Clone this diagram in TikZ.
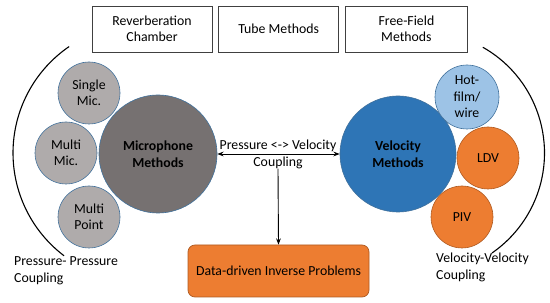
\documentclass[tikz,border=0pt]{standalone}
\usepackage{fontspec}
\setmainfont{Carlito}
\usetikzlibrary{arrows.meta, positioning, shapes.geometric}
\definecolor{micDark}{HTML}{767171}
\definecolor{micGray}{HTML}{AFABAB}
\definecolor{velBlue}{HTML}{2E75B6}
\definecolor{velLight}{HTML}{9DC3E6}
\definecolor{velOrange}{HTML}{ED7D31}
\definecolor{rimBlue}{HTML}{41719C}
\definecolor{rimOrange}{HTML}{AE5A21}
\definecolor{boxLine}{HTML}{404040}
\tikzset{
  arrowK/.style={-{Stealth[length=2.2mm]}, black, line width=0.9pt},
  arrowKK/.style={{Stealth[length=2.2mm]}-{Stealth[length=2.2mm]}, black, line width=0.9pt},
  arcK/.style={black, line width=1.1pt},
  boxTop/.style={rectangle, draw=boxLine, fill=white, line width=0.7pt,
                 align=center, minimum height=46pt, inner sep=2pt},
  boxData/.style={rectangle, rounded corners=7pt, draw=rimOrange, fill=velOrange,
                  line width=0.7pt, align=center, minimum width=181pt,
                  minimum height=52pt},
  circMain/.style={circle, draw=rimBlue, line width=0.6pt, align=center,
                   font=\fontsize{13.8}{16.5}\selectfont\bfseries, inner sep=0pt},
  circSub/.style={circle, draw=rimBlue, line width=0.6pt, align=center,
                  minimum size=62pt, inner sep=0pt},
}
\begin{document}
\begin{tikzpicture}[x=1pt, y=1pt, node distance=6pt, font=\fontsize{13.8}{16.5}\selectfont]
    \useasboundingbox (0,0) rectangle (550,303);
    % top boxes
    \node[boxTop, minimum width=120pt] (reverb) at (152,274) {Reverberation\\Chamber};
    \node[boxTop, minimum width=120pt, right=of reverb] (tube) {Tube Methods};
    \node[boxTop, minimum width=122pt, right=of tube] (free) {Free-Field\\Methods};
    % microphone side
    \node[circMain, fill=micDark, minimum size=118pt] (mic) at (158,149) {Microphone\\Methods};
    \node[circSub, fill=micGray] (single) at (89,210) {Single\\Mic.};
    \node[circSub, fill=micGray] (multimic) at (66,150) {Multi\\Mic.};
    \node[circSub, fill=micGray] (multipt) at (89,86) {Multi\\Point};
    % velocity side
    \node[circMain, fill=velBlue, minimum size=116pt] (vel) at (398,149) {Velocity\\Methods};
    \node[circSub, fill=velLight, minimum size=64pt] (hot) at (467,206) {Hot-\\film/\\wire};
    \node[circSub, fill=velOrange, draw=rimOrange] (ldv) at (488,145) {LDV};
    \node[circSub, fill=velOrange, draw=rimOrange] (piv) at (462,86) {PIV};
    % coupling
    \draw[arrowKK] (mic) -- (vel);
    \node[align=center, inner sep=0pt, font=\fontsize{13.8}{17}\selectfont] (coupling) at (278,149)
          {Pressure <-> Velocity\\Coupling};
    \node[boxData] (data) at (278.5,32) {Data-driven Inverse Problems};
    \draw[arrowK] (coupling.south) -- (data.north);
    % outer arcs
    \draw[arcK] (142,150) ++(124.4:129) arc (124.4:232.8:129);
    \draw[arcK] (423,150) ++(60.5:121.5) arc (60.5:-55.4:121.5);
    \node[align=left, anchor=west, inner sep=0pt] (pplbl) at (14,32) {Pressure- Pressure\\Coupling};
    \node[align=left, anchor=west, inner sep=0pt] (vvlbl) at (436,35.5) {Velocity-Velocity\\Coupling};
\end{tikzpicture}
\end{document}
